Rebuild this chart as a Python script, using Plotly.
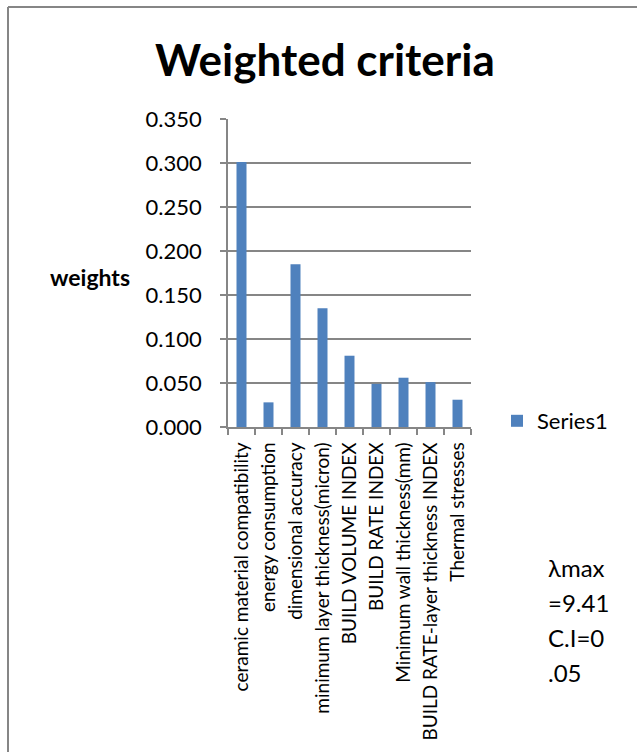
import plotly.graph_objects as go

# Criteria and their AHP weights
criteria = [
    "ceramic material compatibility",
    "energy consumption",
    "dimensional accuracy",
    "minimum layer thickness(micron)",
    "BUILD VOLUME INDEX",
    "BUILD RATE INDEX",
    "Minimum wall thickness(mm)",
    "BUILD RATE-layer thickness INDEX",
    "Thermal stresses",
]
weights = [0.301, 0.028, 0.185, 0.135, 0.081, 0.049, 0.056, 0.051, 0.031]
y_ticks = [0.0, 0.05, 0.10, 0.15, 0.20, 0.25, 0.30, 0.35]
consistency_lines = ["λmax", "=9.41", "C.I=0", ".05"]

W, H = 637, 752
L, R, T, B = 228, 166, 119, 325
PW, PH = W - L - R, H - T - B

FONT = "Lato"
GRAY = "#868686"
BLUE = "#4F81BD"


def px(x):
    return (x - L) / PW


def py(y):
    return (H - B - y) / PH


fig = go.Figure(
    go.Bar(
        x=criteria,
        y=weights,
        name="Series1",
        marker=dict(color=BLUE, line=dict(width=0)),
        showlegend=True,
    )
)

fig.update_layout(
    width=W,
    height=H,
    margin=dict(l=L, r=R, t=T, b=B, autoexpand=False),
    paper_bgcolor="white",
    plot_bgcolor="white",
    bargap=0.63,
    font=dict(family=FONT, size=20, color="black"),
    showlegend=True,
    legend=dict(
        x=px(497),
        y=py(421),
        xanchor="left",
        yanchor="middle",
        font=dict(family=FONT, size=22, color="black"),
        bgcolor="rgba(0,0,0,0)",
    ),
)

fig.update_yaxes(
    range=[0, 0.35],
    tickvals=y_ticks,
    tickformat=".3f",
    automargin=False,
    showgrid=True,
    gridcolor=GRAY,
    gridwidth=1.5,
    showline=True,
    linecolor=GRAY,
    linewidth=1.5,
    ticks="outside",
    ticklen=6,
    tickwidth=1.5,
    tickcolor=GRAY,
    ticklabelstandoff=14,
    zeroline=False,
    tickfont=dict(family=FONT, size=22, color="black"),
)

fig.update_xaxes(
    type="category",
    automargin=False,
    showline=True,
    linecolor=GRAY,
    linewidth=1.5,
    ticks="outside",
    tickson="boundaries",
    ticklen=6,
    tickwidth=1.5,
    tickcolor=GRAY,
    tickangle=-90,
    ticklabelstandoff=6,
    showgrid=False,
    tickfont=dict(family=FONT, size=19, color="black"),
)

annotations = [
    dict(
        text="<b>Weighted criteria</b>",
        x=px(325), y=py(59),
        xref="paper", yref="paper",
        xanchor="center", yanchor="middle",
        showarrow=False,
        font=dict(family=FONT, size=44, color="black"),
    ),
    dict(
        text="<b>weights</b>",
        x=px(90), y=py(277),
        xref="paper", yref="paper",
        xanchor="center", yanchor="middle",
        showarrow=False,
        font=dict(family=FONT, size=23, color="black"),
    ),
]
for i, line in enumerate(consistency_lines):
    annotations.append(
        dict(
            text=line,
            x=px(546), y=py(567 + 35 * i),
            xref="paper", yref="paper",
            xanchor="left", yanchor="middle",
            showarrow=False,
            font=dict(family=FONT, size=24, color="black"),
        )
    )
fig.update_layout(annotations=annotations)

# Chart frame (left and top edges)
fig.add_shape(type="line", xref="paper", yref="paper",
              x0=px(8), x1=px(8), y0=py(7), y1=py(H + 5),
              line=dict(color=GRAY, width=2))
fig.add_shape(type="line", xref="paper", yref="paper",
              x0=px(8), x1=px(W + 5), y0=py(7), y1=py(7),
              line=dict(color=GRAY, width=2))

fig.write_html("out.html")
